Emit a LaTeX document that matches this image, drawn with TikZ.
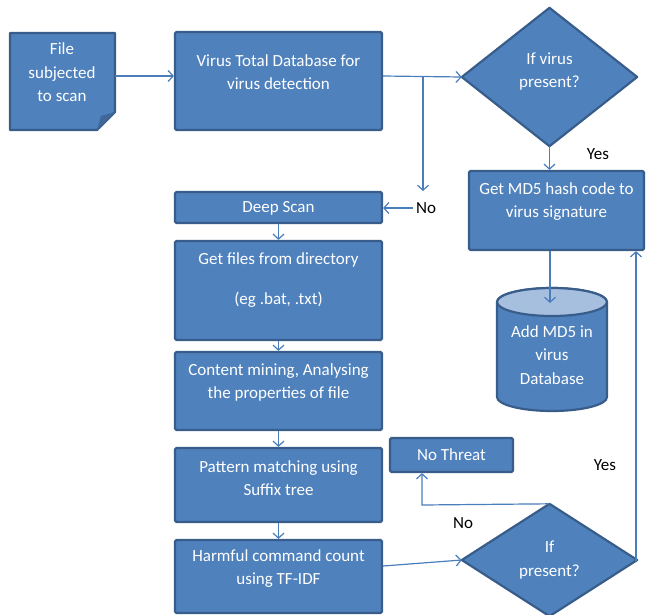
\documentclass[tikz,border=0pt]{standalone}
\usepackage{fontspec}
\setmainfont{Carlito}
\usetikzlibrary{arrows.meta,calc}
\definecolor{boxfill}{HTML}{4F81BD}
\definecolor{boxline}{HTML}{385D8A}
\definecolor{conn}{HTML}{4A7EBB}
\definecolor{capfill}{HTML}{A7BFDE}
\definecolor{foldfill}{HTML}{3F6797}
\tikzset{
  box/.style={draw=boxline,fill=boxfill,line width=2.2pt,rounded corners=1.5pt,inner sep=0pt},
  ghost/.style={inner sep=0pt},
  txt/.style={text=white,align=center,font=\fontsize{17}{23.5}\selectfont,inner sep=0pt},
  lbl/.style={text=black,font=\fontsize{17}{20}\selectfont,inner sep=0pt},
  conn/.style={draw=conn,line width=1.2pt,-{Straight Barb[length=5pt,width=11pt,line width=1.2pt]}},
  plain/.style={draw=conn,line width=1.2pt}
}
\begin{document}
\begin{tikzpicture}[x=1pt,y=-1pt]
\useasboundingbox (0,0) rectangle (651,614);
% file (document shape)
\node[ghost,minimum width=105pt,minimum height=97pt] (file) at (62.5,81.5) {};
\draw[draw=boxline,fill=boxfill,line width=2.2pt,line join=round]
  (10,33) -- (115,33) -- (115,112) -- (97,130) -- (10,130) -- cycle;
\fill[foldfill] (115,112) -- (97,130) -- (101,116) -- cycle;
\node[txt] (fileT) at (62,72.5) {File\\subjected\\to scan};
% boxes
\node[box,minimum width=207pt,minimum height=98pt] (vt) at (278.5,81) {};
\node[txt] (vtT) at (278.5,72) {Virus Total Database for\\virus detection};
\node[box,minimum width=175pt,minimum height=79pt] (md5) at (556.5,210.5) {};
\node[txt] (md5T) at (556.5,201.5) {Get MD5 hash code to\\virus signature};
\node[box,minimum width=207pt,minimum height=31pt] (deep) at (278.5,207.5) {};
\node[txt] (deepT) at (278.5,208) {Deep Scan};
\node[box,minimum width=207pt,minimum height=99pt] (files) at (278.5,290.5) {};
\node[txt] (filesT) at (278.5,280) {Get files from directory\\[16pt](eg .bat, .txt)};
\node[box,minimum width=207pt,minimum height=78pt] (mining) at (278.5,391) {};
\node[txt] (miningT) at (278.5,382.5) {Content mining, Analysing\\the properties of file};
\node[box,minimum width=207pt,minimum height=74pt] (pattern) at (278.5,485) {};
\node[txt] (patternT) at (278.5,478) {Pattern matching using\\Suffix tree};
\node[box,minimum width=207pt,minimum height=73pt] (harm) at (278.5,576.5) {};
\node[txt] (harmT) at (278.5,568.5) {Harmful command count\\using TF-IDF};
\node[box,minimum width=123pt,minimum height=34pt] (nothreat) at (451.5,455) {};
\node[txt] (nothreatT) at (451.5,455) {No Threat};
% diamonds
\node[ghost,minimum width=175pt,minimum height=138pt] (d1) at (549.5,77) {};
\draw[draw=boxline,fill=boxfill,line width=2.2pt,line join=round]
  (d1.north) -- (d1.east) -- (d1.south) -- (d1.west) -- cycle;
\node[txt] (d1T) at (549.5,71.5) {If virus\\present?};
\node[ghost,minimum width=175pt,minimum height=112pt] (d2) at (549.5,560) {};
\draw[draw=boxline,fill=boxfill,line width=2.2pt,line join=round]
  (d2.north) -- (d2.east) -- (d2.south) -- (d2.west) -- cycle;
\node[txt] (d2T) at (549.5,560) {If\\present?};
% cylinder
\node[ghost,minimum width=110pt,minimum height=124pt] (cyl) at (552,350) {};
\draw[draw=boxline,fill=boxfill,line width=2.2pt]
  (497,302) -- (497,397) arc[start angle=180,end angle=360,x radius=55pt,y radius=14pt]
  -- (607,302) arc[start angle=0,end angle=180,x radius=55pt,y radius=14pt] -- cycle;
\draw[draw=boxline,fill=capfill,line width=2.2pt] (552,302) ellipse[x radius=55pt,y radius=14pt];
\node[txt] (cylT) at (552,355) {Add MD5 in\\virus\\Database};
% labels
\node[lbl] (yes1) at (598,154) {Yes};
\node[lbl] (yes2) at (605,465) {Yes};
\node[lbl] (no1) at (426,208) {No};
\node[lbl] (no2) at (463,523) {No};
% connectors
\coordinate (fileOut) at (file.east |- 0,76);
\draw[conn] (fileOut) -- (fileOut -| vt.west);
\coordinate (vtOut) at (vt.east |- 0,76);
\draw[conn] (vtOut) -- (d1.west);
\coordinate (branch) at (423,76);
\coordinate (branchEnd) at (423,191);
\draw[conn] (branch) -- (branchEnd);
\draw[conn] (no1.west) ++(-3,0) coordinate (noStart) -- (deep.east |- noStart);
\draw[conn] (d1.south) -- (d1.south |- md5.north);
\coordinate (md5Out) at (550,251);
\draw[conn] (md5Out) -- (550,303);
\draw[conn] (deep.south) -- (files.north);
\draw[conn] (files.south) -- (mining.north);
\draw[conn] (mining.south) -- (pattern.north);
\draw[conn] (pattern.south) -- (harm.north);
\coordinate (harmOut) at (harm.east |- 0,566);
\draw[conn] (harmOut) -- (d2.west);
\coordinate (noCorner) at (422,505);
\draw[conn] (d2.north) -- (noCorner) -- (noCorner |- nothreat.south);
\coordinate (yesUp) at (636,560);
\draw[conn] (d2.east) -- (yesUp) -- (yesUp |- md5.south);
\end{tikzpicture}
\end{document}
